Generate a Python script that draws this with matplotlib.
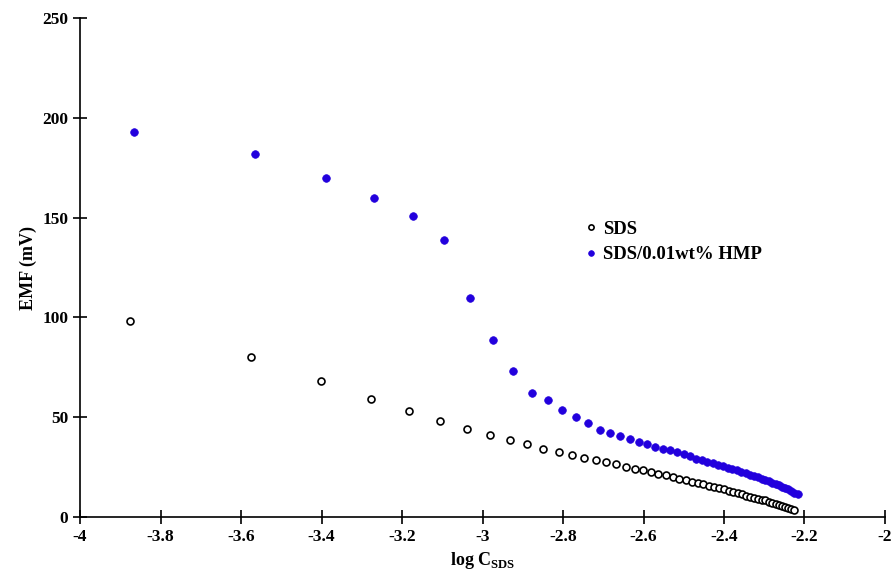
import numpy as np
import matplotlib.pyplot as plt

plt.rcParams['font.family'] = ['Liberation Serif', 'DejaVu Serif']
plt.rcParams['font.weight'] = 'bold'
plt.rcParams['mathtext.fontset'] = 'custom'
plt.rcParams['mathtext.rm'] = 'Liberation Serif:bold'
plt.rcParams['mathtext.bf'] = 'Liberation Serif:bold'

# SDS (open circles)
sds_logc = [-3.876, -3.575, -3.401, -3.277, -3.182, -3.105, -3.039, -2.982, -2.932,
            -2.889, -2.849, -2.811, -2.778, -2.748, -2.718, -2.692, -2.668, -2.643,
            -2.621, -2.601, -2.581, -2.563, -2.545, -2.527, -2.511, -2.495, -2.480,
            -2.465, -2.451, -2.438, -2.425, -2.412, -2.400, -2.388, -2.377, -2.366,
            -2.355, -2.345, -2.335, -2.325, -2.316, -2.306, -2.297, -2.288, -2.280,
            -2.272, -2.263, -2.256, -2.248, -2.241, -2.234, -2.226]
sds_emf = [98.0, 80.0, 68.0, 59.0, 53.2, 48.2, 44.2, 41.2, 38.5,
           36.5, 34.0, 32.4, 30.9, 29.4, 28.5, 27.4, 26.5, 25.2,
           24.2, 23.5, 22.7, 21.7, 20.9, 19.9, 19.2, 18.7, 17.7,
           17.2, 16.4, 15.5, 14.9, 14.4, 13.9, 13.2, 12.5, 11.9,
           11.4, 10.7, 10.2, 9.7, 9.2, 8.7, 8.3, 7.7, 7.2,
           6.7, 6.2, 5.7, 5.2, 4.7, 4.2, 3.4]

# SDS/0.01wt% HMP (filled blue)
hmp_logc = [-3.866, -3.565, -3.389, -3.270, -3.173, -3.096, -3.031, -2.974, -2.924,
            -2.878, -2.838, -2.802, -2.768, -2.737, -2.708, -2.682, -2.658, -2.634,
            -2.612, -2.591, -2.571, -2.552, -2.534, -2.517, -2.500, -2.485, -2.470,
            -2.455, -2.441, -2.428, -2.416, -2.403, -2.391, -2.380, -2.368, -2.357,
            -2.345, -2.335, -2.325, -2.316, -2.306, -2.297, -2.288, -2.280, -2.271,
            -2.263, -2.256, -2.248, -2.241, -2.234, -2.226, -2.217]
hmp_emf = [193.0, 182.0, 170.0, 160.0, 151.0, 139.0, 109.5, 88.5, 73.0,
           62.2, 58.4, 53.7, 50.2, 46.9, 43.5, 42.2, 40.5, 39.0,
           37.7, 36.5, 35.2, 34.2, 33.5, 32.4, 31.5, 30.5, 29.0,
           28.5, 27.7, 26.9, 26.0, 25.5, 24.7, 24.0, 23.3, 22.5,
           21.9, 21.2, 20.5, 19.9, 19.2, 18.5, 17.8, 17.0, 16.4,
           15.8, 15.2, 14.5, 13.8, 13.0, 12.2, 11.3]

xticks = [-4, -3.8, -3.6, -3.4, -3.2, -3, -2.8, -2.6, -2.4, -2.2, -2]
xtick_labels = ['-4', '-3.8', '-3.6', '-3.4', '-3.2', '-3', '-2.8', '-2.6', '-2.4', '-2.2', '-2']
yticks = [0, 50, 100, 150, 200, 250]

fig = plt.figure(figsize=(8.93, 5.75), dpi=100)
ax = fig.add_axes([80 / 893, 1 - 517 / 575, 805 / 893, 499 / 575])

ax.plot(sds_logc, sds_emf, 'o', ms=5, mfc='white', mec='black', mew=1.2,
        linestyle='none', label='SDS')
ax.plot(hmp_logc, hmp_emf, 'o', ms=5.5, mfc='#2200dd', mec='#2200dd', mew=0.5,
        linestyle='none', label='SDS/0.01wt% HMP')

ax.set_xlim(-4, -2)
ax.set_ylim(0, 250)
ax.set_xticks(xticks)
ax.set_xticklabels(xtick_labels)
ax.set_yticks(yticks)
ax.tick_params(direction='inout', length=10, width=1.2, labelsize=12.5)
for lab in ax.get_xticklabels() + ax.get_yticklabels():
    lab.set_fontweight('bold')

for s in ['top', 'right']:
    ax.spines[s].set_visible(False)
for s in ['left', 'bottom']:
    ax.spines[s].set_linewidth(1.2)

ax.set_xlabel(r'log C$_{\mathrm{SDS}}$', fontsize=13, fontweight='bold', labelpad=4)
ax.set_ylabel('EMF (mV)', fontsize=13, fontweight='bold', labelpad=4)

ax.legend(frameon=False, loc='upper left', bbox_to_anchor=(0.605, 0.628),
          markerscale=0.75, handletextpad=0.2, handlelength=0.8,
          labelspacing=0.45, prop={'weight': 'bold', 'size': 13.5})

fig.savefig('out.png', dpi=100)
